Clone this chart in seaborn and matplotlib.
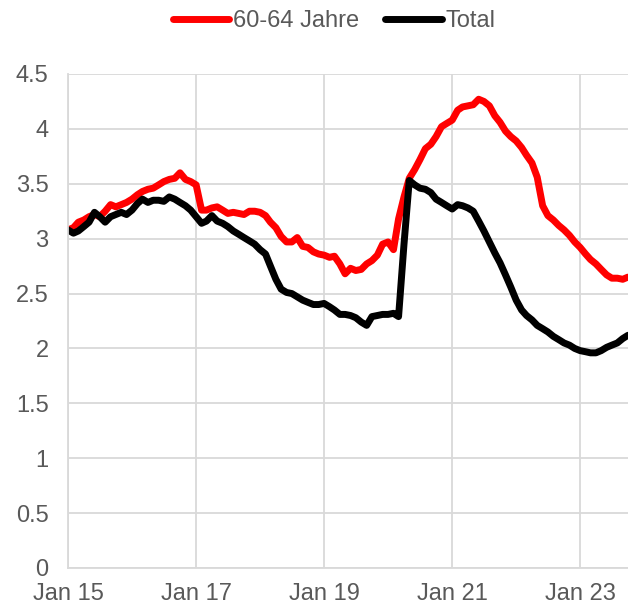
import numpy as np
import pandas as pd
import seaborn as sns
import matplotlib.pyplot as plt
import matplotlib.dates as mdates
from matplotlib.ticker import FixedLocator, FuncFormatter

# monthly values, Jan 2015 - Oct 2023
dates = pd.date_range("2015-01-01", periods=106, freq="MS")

age_60_64 = [
    3.08, 3.10, 3.15, 3.17, 3.20, 3.22, 3.20, 3.25, 3.31, 3.29, 3.31, 3.33,
    3.36, 3.40, 3.43, 3.45, 3.46, 3.49, 3.52, 3.54, 3.55, 3.60, 3.54, 3.52,
    3.49, 3.26, 3.26, 3.28, 3.29, 3.26, 3.23, 3.24, 3.23, 3.22, 3.25, 3.25,
    3.24, 3.21, 3.15, 3.10, 3.02, 2.97, 2.97, 3.01, 2.93, 2.92, 2.88, 2.86,
    2.85, 2.83, 2.84, 2.77, 2.68, 2.73, 2.71, 2.72, 2.77, 2.80, 2.85, 2.95,
    2.97, 2.90, 3.18, 3.38, 3.55, 3.63, 3.72, 3.82, 3.86, 3.93, 4.02, 4.05,
    4.08, 4.17, 4.20, 4.21, 4.22, 4.27, 4.25, 4.21, 4.12, 4.06, 3.98, 3.93,
    3.89, 3.83, 3.76, 3.69, 3.56, 3.30, 3.21, 3.17, 3.12, 3.08, 3.03, 2.97,
    2.92, 2.86, 2.81, 2.77, 2.72, 2.67, 2.64, 2.64, 2.63, 2.65,
]

total = [
    3.08, 3.05, 3.07, 3.11, 3.15, 3.24, 3.20, 3.15, 3.20, 3.22, 3.24, 3.22,
    3.26, 3.32, 3.36, 3.33, 3.35, 3.35, 3.34, 3.38, 3.36, 3.33, 3.30, 3.26,
    3.20, 3.14, 3.16, 3.21, 3.16, 3.14, 3.11, 3.07, 3.04, 3.01, 2.98, 2.95,
    2.90, 2.86, 2.75, 2.63, 2.54, 2.51, 2.50, 2.47, 2.44, 2.42, 2.40, 2.40,
    2.41, 2.38, 2.35, 2.31, 2.31, 2.30, 2.28, 2.24, 2.21, 2.29, 2.30, 2.31,
    2.31, 2.32, 2.29, 2.95, 3.53, 3.49, 3.46, 3.45, 3.42, 3.36, 3.33, 3.30,
    3.27, 3.31, 3.30, 3.28, 3.25, 3.16, 3.07, 2.97, 2.87, 2.78, 2.67, 2.56,
    2.44, 2.35, 2.30, 2.26, 2.21, 2.18, 2.15, 2.11, 2.08, 2.05, 2.03, 2.00,
    1.98, 1.97, 1.96, 1.96, 1.98, 2.01, 2.03, 2.05, 2.09, 2.12,
]

series_names = ["60-64 Jahre", "Total"]
colors = ["#ff0000", "#000000"]
y_ticks = [0, 0.5, 1, 1.5, 2, 2.5, 3, 3.5, 4, 4.5]

df = pd.DataFrame({"date": dates, "60-64 Jahre": age_60_64, "Total": total})
long_df = df.melt(id_vars="date", var_name="series", value_name="value")

sns.set_theme(style="whitegrid")
plt.rcParams['font.family'] = ['Liberation Sans', 'DejaVu Sans']

text_color = "#595959"
grid_color = "#d9d9d9"

fig = plt.figure(figsize=(6.28, 6.05), dpi=100)
ax = fig.add_axes([68 / 628, 37 / 605, 560 / 628, 494 / 605])

sns.lineplot(data=long_df, x="date", y="value", hue="series",
             hue_order=series_names, palette=colors, linewidth=5,
             ax=ax, legend=False)

ax.set_xlim(dates[0], dates[-1])
ax.set_ylim(0, 4.5)
ax.yaxis.set_major_locator(FixedLocator(y_ticks))
ax.yaxis.set_major_formatter(FuncFormatter(lambda v, p: f"{v:g}"))

tick_dates = pd.to_datetime(["2015-01-01", "2017-01-01", "2019-01-01", "2021-01-01", "2023-01-01"])
ax.set_xticks(tick_dates)
ax.xaxis.set_major_formatter(mdates.DateFormatter("Jan %y"))

ax.set_xlabel("")
ax.set_ylabel("")
ax.grid(True, color=grid_color, linewidth=1.3)
ax.tick_params(axis="both", length=0, labelsize=17, colors=text_color)
ax.tick_params(axis="y", pad=14)
ax.tick_params(axis="x", pad=11)

for side in ["top", "right"]:
    ax.spines[side].set_visible(False)
for side in ["left", "bottom"]:
    ax.spines[side].set_color(grid_color)
    ax.spines[side].set_linewidth(1.3)

handles = [plt.Line2D([], [], color=c, linewidth=5, solid_capstyle="round") for c in colors]
leg = fig.legend(handles, series_names, loc="center", ncol=2,
                 bbox_to_anchor=(334 / 628, 1 - 21 / 605), frameon=False,
                 fontsize=17, handlelength=2.4, handletextpad=0.15,
                 columnspacing=1.1)
for t in leg.get_texts():
    t.set_color(text_color)

fig.savefig("out.png", dpi=100)
